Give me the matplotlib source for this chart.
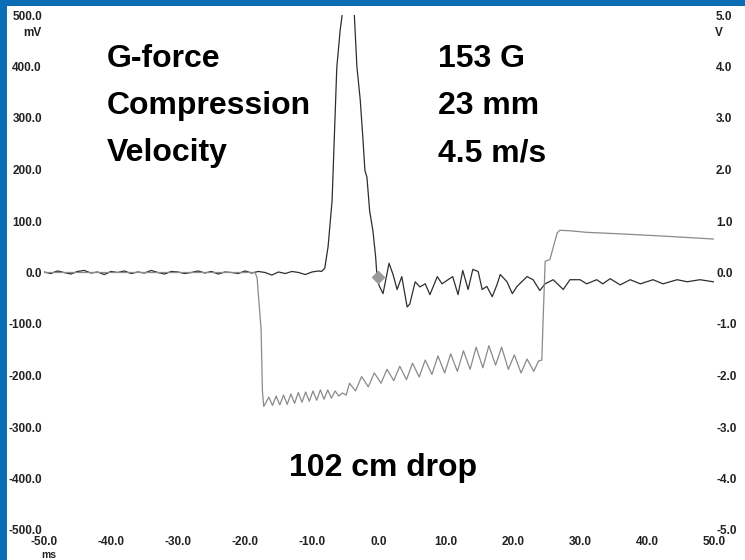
import matplotlib
matplotlib.use("Agg")
import matplotlib.pyplot as plt
from matplotlib.patches import Rectangle

# accelerometer trace (mV, left axis)
acc_t = [-50, -49, -48, -47, -46, -45, -44, -43, -42, -41, -40, -39, -38, -37, -36, -35, -34, -33,
         -32, -31, -30, -29, -28, -27, -26, -25, -24, -23, -22, -21, -20, -19, -18, -17, -16, -15,
         -14, -13, -12, -11, -10, -9,
         -8.6, -8.1, -7.6, -7.0, -6.3, -5.8, -5.4, -4.9, -4.5, -4.1, -3.7, -3.3, -2.8, -2.4, -2.1,
         -1.8, -1.4, -0.9, -0.5, -0.3, 0.0, 0.6, 1.5, 2.1, 2.7, 3.4, 4.2, 4.6, 5.4, 6.1, 6.9, 7.6,
         8.7, 9.4, 10.3, 11.0, 11.8, 12.5, 13.3, 14.0, 14.8, 15.4, 16.1, 16.9, 17.6, 18.1, 19.1,
         19.9, 20.6, 21.3, 22.1, 23.0, 24.0, 24.8, 26.0, 27.5, 28.5, 30.0, 31.0, 32.5, 33.4, 34.5,
         36.0, 37.5, 39.0, 40.9, 42.4, 44.5, 46.0, 47.9, 49.9]
acc_mv = [1, -2, 3, 0, -3, 2, 4, -1, 1, -4, 2, 0, 3, -2, 1, -1, 4, 0,
          -3, 2, 1, -2, 0, 3, -1, 2, -3, 1, 0, -2, 3, -1, 2, 0, -5, 1,
          -2, 2, 0, -4, 1, 3,
          2, 8, 50, 140, 398, 470, 510, 600, 625, 590, 505, 400, 335, 260, 198,
          185, 120, 80, 30, -8, -25, -41, 18, -4, -33, -8, -67, -61, -18, -28, -22, -43,
          -8, -22, -14, -8, -43, 4, -33, 6, 2, -33, -27, -47, -24, -4, -18,
          -41, -27, -18, -8, -14, -35, -22, -14, -33, -14, -14, -22, -14, -22, -12,
          -24, -14, -22, -14, -22, -14, -18, -14, -18]

# displacement trace (V, right axis)
disp_t = [-50, -18.5, -18.2, -17.9, -17.6, -17.4, -17.2,
          -16.45, -15.9, -15.35, -14.8, -14.25, -13.7, -13.15, -12.6, -12.05, -11.5, -10.95,
          -10.4, -9.85, -9.3, -8.75, -8.2, -7.65, -7.1, -6.55, -6.0, -5.45, -4.9,
          -4.4, -3.5, -2.6, -1.6, -0.7, 0.3, 1.2, 2.2, 3.1, 4.1, 5.0, 6.0, 6.9, 7.9, 8.8,
          9.8, 10.7, 11.7, 12.6, 13.6, 14.5, 15.5, 16.4, 17.4, 18.3, 19.3, 20.2, 21.2,
          22.1, 23.1, 23.8, 24.3, 24.5, 24.8, 25.5, 26.6, 27.0, 28.5, 31.0, 36.0, 42.0,
          46.0, 49.9]
disp_v = [0.0, 0.0, -0.1, -0.6, -1.1, -2.3, -2.6,
          -2.42, -2.58, -2.40, -2.57, -2.38, -2.56, -2.36, -2.54, -2.33, -2.52, -2.32,
          -2.50, -2.30, -2.48, -2.28, -2.46, -2.28, -2.44, -2.30, -2.40, -2.34, -2.38,
          -2.15, -2.30, -2.02, -2.22, -1.95, -2.15, -1.88, -2.10, -1.82, -2.08, -1.76, -2.03,
          -1.70, -1.98, -1.62,
          -1.95, -1.58, -1.92, -1.52, -1.88, -1.45, -1.85, -1.42, -1.80, -1.45, -1.88, -1.60,
          -1.95, -1.68, -1.92, -1.72, -1.70, -0.9, 0.22, 0.25, 0.77, 0.82, 0.81, 0.78, 0.75,
          0.71, 0.68, 0.65]

marker_t = [-0.2]
marker_mv = [-8]

mv_ticks = [-500, -400, -300, -200, -100, 0, 100, 200, 300, 400, 500]
v_ticks = [-5, -4, -3, -2, -1, 0, 1, 2, 3, 4, 5]
ms_ticks = [-50, -40, -30, -20, -10, 0, 10, 20, 30, 40, 50]

labels_left = ["G-force", "Compression", "Velocity"]
labels_right = ["153 G", "23 mm", "4.5 m/s"]
caption = "102 cm drop"

W, H = 745, 560
FONT = ["Liberation Sans", "DejaVu Sans"]
plt.rcParams["font.family"] = FONT


def fx(px):
    return px / W


def fy(py):
    return 1 - py / H


fig = plt.figure(figsize=(W / 100, H / 100), dpi=100)
fig.patch.set_facecolor("#0b6db6")
fig.patches.append(Rectangle((fx(7), 0), 1, fy(6), transform=fig.transFigure,
                             facecolor="white", edgecolor="none", zorder=-1))

ax = fig.add_axes([fx(44), fy(530), fx(714) - fx(44), fy(15) - fy(530)])
ax.set_facecolor("none")
ax2 = ax.twinx()

ax.plot(acc_t, acc_mv, color="#2e2e2e", lw=0.9, zorder=3)
ax2.plot(disp_t, disp_v, color="#8a8a8a", lw=0.9, zorder=2)
ax.plot(marker_t, marker_mv, marker="D", ms=6, color="#9a9a9a", ls="none", zorder=4)

ax.set_xlim(-50, 50)
ax.set_ylim(-500, 500)
ax2.set_ylim(-5, 5)

ax.set_xticks(ms_ticks)
ax.set_xticklabels([f"{v:.1f}" for v in ms_ticks])
ax.set_yticks(mv_ticks)
ax.set_yticklabels([f"{v:.1f}" for v in mv_ticks])
ax2.set_yticks(v_ticks)
ax2.set_yticklabels([f"{v:.1f}" for v in v_ticks])

for a in (ax, ax2):
    for s in a.spines.values():
        s.set_visible(False)
ax.tick_params(axis="y", length=0, pad=1.5, labelsize=8.5, colors="#222222")
ax.tick_params(axis="x", length=0, pad=4, labelsize=8.5, colors="#222222")
ax2.tick_params(axis="y", length=0, pad=1.5, labelsize=8.5, colors="#222222")
for lab in ax.get_xticklabels() + ax.get_yticklabels() + ax2.get_yticklabels():
    lab.set_fontweight("bold")

fig.text(fx(42), fy(33), "mV", ha="right", va="center", fontsize=8.5, fontweight="bold", color="#222222")
fig.text(fx(715), fy(33), "V", ha="left", va="center", fontsize=8.5, fontweight="bold", color="#222222")
fig.text(fx(49), fy(560), "ms", ha="center", va="bottom", fontsize=7.5, fontweight="bold", color="#222222")

for i, (l, r) in enumerate(zip(labels_left, labels_right)):
    base = 67 + 47 * i
    fig.text(fx(107), fy(base), l, ha="left", va="baseline", fontsize=23, fontweight="bold")
    fig.text(fx(438), fy(base), r, ha="left", va="baseline", fontsize=23, fontweight="bold")
fig.text(fx(289), fy(476), caption, ha="left", va="baseline", fontsize=23, fontweight="bold")

fig.savefig("out.png", dpi=100, facecolor=fig.get_facecolor())
